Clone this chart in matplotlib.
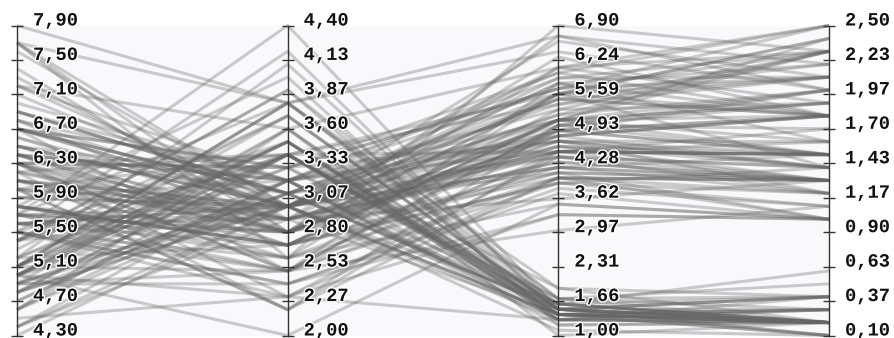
import numpy as np
import matplotlib.pyplot as plt
import matplotlib.patheffects as pe

# iris: sepal length, sepal width, petal length, petal width
sepal_length = [5.1, 4.9, 4.7, 4.6, 5.0, 5.4, 4.6, 5.0, 4.4, 4.9, 5.4, 4.8, 4.8, 4.3, 5.8, 5.7, 5.4, 5.1, 5.7, 5.1,
                5.4, 5.1, 4.6, 5.1, 4.8, 5.0, 5.0, 5.2, 5.2, 4.7, 4.8, 5.4, 5.2, 5.5, 4.9, 5.0, 5.5, 4.9, 4.4, 5.1,
                5.0, 4.5, 4.4, 5.0, 5.1, 4.8, 5.1, 4.6, 5.3, 5.0,
                7.0, 6.4, 6.9, 5.5, 6.5, 5.7, 6.3, 4.9, 6.6, 5.2, 5.0, 5.9, 6.0, 6.1, 5.6, 6.7, 5.6, 5.8, 6.2, 5.6,
                5.9, 6.1, 6.3, 6.1, 6.4, 6.6, 6.8, 6.7, 6.0, 5.7, 5.5, 5.5, 5.8, 6.0, 5.4, 6.0, 6.7, 6.3, 5.6, 5.5,
                5.5, 6.1, 5.8, 5.0, 5.6, 5.7, 5.7, 6.2, 5.1, 5.7,
                6.3, 5.8, 7.1, 6.3, 6.5, 7.6, 4.9, 7.3, 6.7, 7.2, 6.5, 6.4, 6.8, 5.7, 5.8, 6.4, 6.5, 7.7, 7.7, 6.0,
                6.9, 5.6, 7.7, 6.3, 6.7, 7.2, 6.2, 6.1, 6.4, 7.2, 7.4, 7.9, 6.4, 6.3, 6.1, 7.7, 6.3, 6.4, 6.0, 6.9,
                6.7, 6.9, 5.8, 6.8, 6.7, 6.7, 6.3, 6.5, 6.2, 5.9]
sepal_width = [3.5, 3.0, 3.2, 3.1, 3.6, 3.9, 3.4, 3.4, 2.9, 3.1, 3.7, 3.4, 3.0, 3.0, 4.0, 4.4, 3.9, 3.5, 3.8, 3.8,
               3.4, 3.7, 3.6, 3.3, 3.4, 3.0, 3.4, 3.5, 3.4, 3.2, 3.1, 3.4, 4.1, 4.2, 3.1, 3.2, 3.5, 3.6, 3.0, 3.4,
               3.5, 2.3, 3.2, 3.5, 3.8, 3.0, 3.8, 3.2, 3.7, 3.3,
               3.2, 3.2, 3.1, 2.3, 2.8, 2.8, 3.3, 2.4, 2.9, 2.7, 2.0, 3.0, 2.2, 2.9, 2.9, 3.1, 3.0, 2.7, 2.2, 2.5,
               3.2, 2.8, 2.5, 2.8, 2.9, 3.0, 2.8, 3.0, 2.9, 2.6, 2.4, 2.4, 2.7, 2.7, 3.0, 3.4, 3.1, 2.3, 3.0, 2.5,
               2.6, 3.0, 2.6, 2.3, 2.7, 3.0, 2.9, 2.9, 2.5, 2.8,
               3.3, 2.7, 3.0, 2.9, 3.0, 3.0, 2.5, 2.9, 2.5, 3.6, 3.2, 2.7, 3.0, 2.5, 2.8, 3.2, 3.0, 3.8, 2.6, 2.2,
               3.2, 2.8, 2.8, 2.7, 3.3, 3.2, 2.8, 3.0, 2.8, 3.0, 2.8, 3.8, 2.8, 2.8, 2.6, 3.0, 3.4, 3.1, 3.0, 3.1,
               3.1, 3.1, 2.7, 3.2, 3.3, 3.0, 2.5, 3.0, 3.4, 3.0]
petal_length = [1.4, 1.4, 1.3, 1.5, 1.4, 1.7, 1.4, 1.5, 1.4, 1.5, 1.5, 1.6, 1.4, 1.1, 1.2, 1.5, 1.3, 1.4, 1.7, 1.5,
                1.7, 1.5, 1.0, 1.7, 1.9, 1.6, 1.6, 1.5, 1.4, 1.6, 1.6, 1.5, 1.5, 1.4, 1.5, 1.2, 1.3, 1.4, 1.3, 1.5,
                1.3, 1.3, 1.3, 1.6, 1.9, 1.4, 1.6, 1.4, 1.5, 1.4,
                4.7, 4.5, 4.9, 4.0, 4.6, 4.5, 4.7, 3.3, 4.6, 3.9, 3.5, 4.2, 4.0, 4.7, 3.6, 4.4, 4.5, 4.1, 4.5, 3.9,
                4.8, 4.0, 4.9, 4.7, 4.3, 4.4, 4.8, 5.0, 4.5, 3.5, 3.8, 3.7, 3.9, 5.1, 4.5, 4.5, 4.7, 4.4, 4.1, 4.0,
                4.4, 4.6, 4.0, 3.3, 4.2, 4.2, 4.2, 4.3, 3.0, 4.1,
                6.0, 5.1, 5.9, 5.6, 5.8, 6.6, 4.5, 6.3, 5.8, 6.1, 5.1, 5.3, 5.5, 5.0, 5.1, 5.3, 5.5, 6.7, 6.9, 5.0,
                5.7, 4.9, 6.7, 4.9, 5.7, 6.0, 4.8, 4.9, 5.6, 5.8, 6.1, 6.4, 5.6, 5.1, 5.6, 6.1, 5.6, 5.5, 4.8, 5.4,
                5.6, 5.1, 5.1, 5.9, 5.7, 5.2, 5.0, 5.2, 5.4, 5.1]
petal_width = [0.2, 0.2, 0.2, 0.2, 0.2, 0.4, 0.3, 0.2, 0.2, 0.1, 0.2, 0.2, 0.1, 0.1, 0.2, 0.4, 0.4, 0.3, 0.3, 0.3,
               0.2, 0.4, 0.2, 0.5, 0.2, 0.2, 0.4, 0.2, 0.2, 0.2, 0.2, 0.4, 0.1, 0.2, 0.2, 0.2, 0.2, 0.1, 0.2, 0.2,
               0.3, 0.3, 0.2, 0.6, 0.4, 0.3, 0.2, 0.2, 0.2, 0.2,
               1.4, 1.5, 1.5, 1.3, 1.5, 1.3, 1.6, 1.0, 1.3, 1.4, 1.0, 1.5, 1.0, 1.4, 1.3, 1.4, 1.5, 1.0, 1.5, 1.1,
               1.8, 1.3, 1.5, 1.2, 1.3, 1.4, 1.4, 1.7, 1.5, 1.0, 1.1, 1.0, 1.2, 1.6, 1.5, 1.6, 1.5, 1.3, 1.3, 1.3,
               1.2, 1.4, 1.2, 1.0, 1.3, 1.2, 1.3, 1.3, 1.1, 1.3,
               2.5, 1.9, 2.1, 1.8, 2.2, 2.1, 1.7, 1.8, 1.8, 2.5, 2.0, 1.9, 2.1, 2.0, 2.4, 2.3, 1.8, 2.2, 2.3, 1.5,
               2.3, 2.0, 2.0, 1.8, 2.1, 1.8, 1.8, 1.8, 2.1, 1.6, 1.9, 2.0, 2.2, 1.5, 1.4, 2.3, 2.4, 1.8, 1.8, 2.1,
               2.4, 2.3, 1.9, 2.3, 2.5, 2.3, 1.9, 2.0, 2.3, 1.8]

tick_labels = [
    ["7,90", "7,50", "7,10", "6,70", "6,30", "5,90", "5,50", "5,10", "4,70", "4,30"],
    ["4,40", "4,13", "3,87", "3,60", "3,33", "3,07", "2,80", "2,53", "2,27", "2,00"],
    ["6,90", "6,24", "5,59", "4,93", "4,28", "3,62", "2,97", "2,31", "1,66", "1,00"],
    ["2,50", "2,23", "1,97", "1,70", "1,43", "1,17", "0,90", "0,63", "0,37", "0,10"],
]

data = np.array([sepal_length, sepal_width, petal_length, petal_width])
lo = data.min(axis=1, keepdims=True)
hi = data.max(axis=1, keepdims=True)
norm = (data - lo) / (hi - lo)

W, H = 895, 338
fig = plt.figure(figsize=(W / 100, H / 100), dpi=100)
ax = fig.add_axes([17 / W, 2.5 / H, (829 - 17) / W, 310 / H])
ax.set_facecolor("#f9f9fc")
ax.set_xlim(0, 3)
ax.set_ylim(0, 1)
for s in ax.spines.values():
    s.set_visible(False)
ax.set_xticks([])
ax.set_yticks([])

xs = np.arange(4)
for i in range(norm.shape[1]):
    ax.plot(xs, norm[:, i], color="#666666", alpha=0.32, lw=2.2, clip_on=False,
            solid_capstyle="butt")

tick_pos = np.linspace(1, 0, 10)
for k in range(4):
    ax.plot([k, k], [0, 1], color="#333333", lw=1, clip_on=False)
    ax.plot([k] * 10, tick_pos, ls="none", marker="_", ms=9, mew=1,
            color="#333333", clip_on=False)
    for t, lab in zip(tick_pos, tick_labels[k]):
        ax.annotate(lab, (k, t), xytext=(16, 0), textcoords="offset pixels",
                    ha="left", va="baseline", fontsize=13.5, fontweight="bold",
                    family="Liberation Mono", color="#111111",
                    path_effects=[pe.withStroke(linewidth=2, foreground="white")],
                    annotation_clip=False)

fig.savefig("out.png", dpi=100)
